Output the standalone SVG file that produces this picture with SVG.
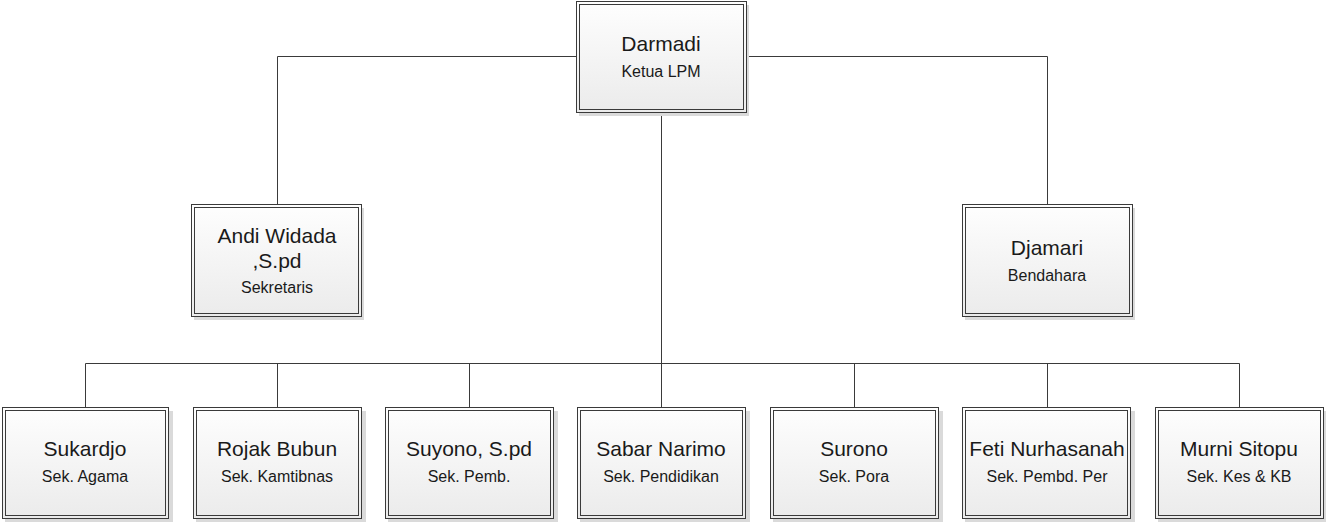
<svg xmlns="http://www.w3.org/2000/svg" width="1326" height="522" viewBox="0 0 1326 522">
<defs>
<linearGradient id="g" x1="0" y1="0" x2="0" y2="1">
<stop offset="0" stop-color="#fefefe"/>
<stop offset="1" stop-color="#ebebeb"/>
</linearGradient>
<style>
.sh{fill:#dadada;}
.o{fill:url(#g);stroke:#3a3a3a;stroke-width:1;}
.i{fill:none;stroke:#3a3a3a;stroke-width:1;}
.n{font-family:"Liberation Sans",Arial,sans-serif;font-size:21px;fill:#1a1a1a;text-anchor:middle;}
.s{font-family:"Liberation Sans",Arial,sans-serif;font-size:16px;fill:#1a1a1a;text-anchor:middle;}
.c{fill:none;stroke:#3a3a3a;stroke-width:1;}
</style>
</defs>
<rect width="1326" height="522" fill="#ffffff"/>
<g id="connectors">
<path class="c" d="M576.5 56.5H277.5V204M746.5 56.5H1047.5V204M661.5 113V363.5M85.5 363.5H1239.5M85.5 363.5V407M277.5 363.5V407M469.5 363.5V407M661.5 363.5V407M854.5 363.5V407M1047.5 363.5V407M1239.5 363.5V407"/>
</g>
<g id="darmadi">
<rect class="sh" x="579" y="5" width="170" height="111"/>
<rect class="o" x="576.5" y="1.5" width="170" height="111"/>
<rect class="i" x="579.5" y="4.5" width="164" height="105"/>
<text class="n" x="661" y="51">Darmadi</text>
<text class="s" x="661" y="77">Ketua LPM</text>
</g>
<g id="andi">
<rect class="sh" x="194" y="208" width="170" height="112"/>
<rect class="o" x="191.5" y="204.5" width="170" height="112"/>
<rect class="i" x="194.5" y="207.5" width="164" height="106"/>
<text class="n" x="277" y="243">Andi Widada</text>
<text class="n" x="277" y="268">,S.pd</text>
<text class="s" x="277" y="293">Sekretaris</text>
</g>
<g id="djamari">
<rect class="sh" x="965" y="208" width="170" height="112"/>
<rect class="o" x="962.5" y="204.5" width="170" height="112"/>
<rect class="i" x="965.5" y="207.5" width="164" height="106"/>
<text class="n" x="1047" y="255">Djamari</text>
<text class="s" x="1047" y="281">Bendahara</text>
</g>
<g id="sukardjo">
<rect class="sh" x="5" y="411" width="168" height="111"/>
<rect class="o" x="2.5" y="407.5" width="166" height="111"/>
<rect class="i" x="5.5" y="410.5" width="160" height="105"/>
<text class="n" x="85" y="456">Sukardjo</text>
<text class="s" x="85" y="482">Sek. Agama</text>
</g>
<g id="rojak">
<rect class="sh" x="196" y="411" width="170" height="111"/>
<rect class="o" x="193.5" y="407.5" width="168" height="111"/>
<rect class="i" x="196.5" y="410.5" width="162" height="105"/>
<text class="n" x="277" y="456">Rojak Bubun</text>
<text class="s" x="277" y="482">Sek. Kamtibnas</text>
</g>
<g id="suyono">
<rect class="sh" x="388" y="411" width="170" height="111"/>
<rect class="o" x="385.5" y="407.5" width="168" height="111"/>
<rect class="i" x="388.5" y="410.5" width="162" height="105"/>
<text class="n" x="469" y="456">Suyono, S.pd</text>
<text class="s" x="469" y="482">Sek. Pemb.</text>
</g>
<g id="sabar">
<rect class="sh" x="580" y="411" width="170" height="111"/>
<rect class="o" x="577.5" y="407.5" width="168" height="111"/>
<rect class="i" x="580.5" y="410.5" width="162" height="105"/>
<text class="n" x="661" y="456">Sabar Narimo</text>
<text class="s" x="661" y="482">Sek. Pendidikan</text>
</g>
<g id="surono">
<rect class="sh" x="773" y="411" width="170" height="111"/>
<rect class="o" x="770.5" y="407.5" width="168" height="111"/>
<rect class="i" x="773.5" y="410.5" width="162" height="105"/>
<text class="n" x="854" y="456">Surono</text>
<text class="s" x="854" y="482">Sek. Pora</text>
</g>
<g id="feti">
<rect class="sh" x="965" y="411" width="170" height="111"/>
<rect class="o" x="962.5" y="407.5" width="168" height="111"/>
<rect class="i" x="965.5" y="410.5" width="162" height="105"/>
<text class="n" x="1047" y="456">Feti Nurhasanah</text>
<text class="s" x="1047" y="482">Sek. Pembd. Per</text>
</g>
<g id="murni">
<rect class="sh" x="1158" y="411" width="168" height="111"/>
<rect class="o" x="1155.5" y="407.5" width="168" height="111"/>
<rect class="i" x="1158.5" y="410.5" width="162" height="105"/>
<text class="n" x="1239" y="456">Murni Sitopu</text>
<text class="s" x="1239" y="482">Sek. Kes &amp; KB</text>
</g>
</svg>
